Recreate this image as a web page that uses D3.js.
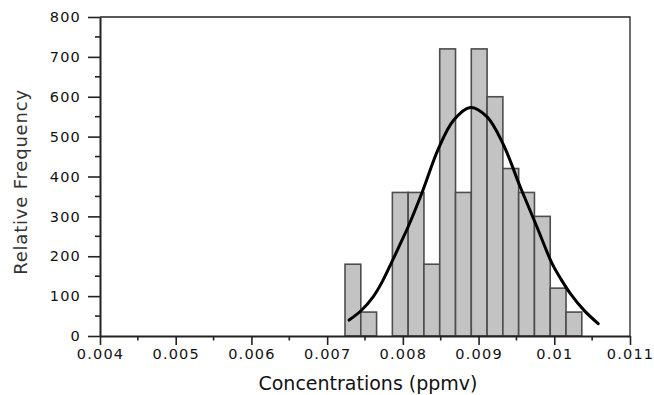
<!DOCTYPE html>
<html>
<head>
<meta charset="utf-8">
<script src="https://cdn.jsdelivr.net/npm/d3@7"></script>
<style>
  html, body { margin: 0; padding: 0; background: #fff; }
  svg { display: block; }
  .tk { font-family: "DejaVu Sans", Verdana, sans-serif; font-size: 14.5px; letter-spacing: 1.2px; fill: #111; }
</style>
</head>
<body>
<svg id="chart" width="654" height="395"></svg>
<script>
// ---- data ----
const binStart = 0.007236;
const binWidth = 0.0002085;
const binValues = [180, 60, 0, 360, 360, 180, 720, 360, 720, 600, 420, 360, 300, 120, 60];
const curveX = [0.00729, 0.00745, 0.00761, 0.00773, 0.00785, 0.00797, 0.00807, 0.00825, 0.00847, 0.00867, 0.00889,
                0.00911, 0.00933, 0.00955, 0.00977, 0.00997, 0.01009, 0.01021, 0.01040, 0.01058];
const curveY = [40, 64, 99, 137, 184, 233, 274, 358, 470, 541, 573,
                550, 479, 374, 274, 182, 142, 107, 63, 31];
const xTicks = [0.004, 0.005, 0.006, 0.007, 0.008, 0.009, 0.01, 0.011];
const xTickLabels = ["0.004", "0.005", "0.006", "0.007", "0.008", "0.009", "0.01", "0.011"];
const yTicks = [0, 100, 200, 300, 400, 500, 600, 700, 800];
const xLabel = "Concentrations (ppmv)";
const yLabel = "Relative Frequency";

// ---- layout ----
const L = 100, R = 630, T = 17, B = 336;
const svg = d3.select("#chart");
const x = d3.scaleLinear().domain([0.004, 0.011]).range([L, R]);
const y = d3.scaleLinear().domain([0, 800]).range([B, T]);

// frame (top/right)
svg.append("path")
  .attr("d", `M${L},${T}H${R}V${B}`)
  .attr("fill", "none").attr("stroke", "#222").attr("stroke-width", 1.3);

// bars
const bins = binValues.map((v, i) => ({x0: binStart + i * binWidth, x1: binStart + (i + 1) * binWidth, v}));
svg.append("g").selectAll("rect").data(bins.filter(d => d.v > 0)).join("rect")
  .attr("x", d => x(d.x0))
  .attr("y", d => y(d.v))
  .attr("width", d => x(d.x1) - x(d.x0))
  .attr("height", d => y(0) - y(d.v))
  .attr("fill", "#c3c3c3")
  .attr("stroke", "#4d4d4d")
  .attr("stroke-width", 1.6);

// curve
const pts = curveX.map((cx, i) => [cx, curveY[i]]);
svg.append("path")
  .datum(pts)
  .attr("fill", "none")
  .attr("stroke", "#000")
  .attr("stroke-width", 3)
  .attr("stroke-linecap", "round")
  .attr("d", d3.line().x(d => x(d[0])).y(d => y(d[1])).curve(d3.curveCatmullRom.alpha(0.5)));

const tickFont = "DejaVu Sans, Verdana, sans-serif";

// x axis
const xAxis = svg.append("g").attr("transform", `translate(0,${B})`)
  .call(d3.axisBottom(x).tickValues(xTicks).tickFormat((d, i) => xTickLabels[i]).tickSize(9).tickSizeOuter(0).tickPadding(4));
xAxis.select(".domain").attr("stroke", "#222").attr("stroke-width", 2);
xAxis.selectAll(".tick line").attr("stroke", "#222").attr("stroke-width", 1.6);
xAxis.attr("font-size", null).attr("font-family", null);
xAxis.selectAll("text").attr("class", "tk").attr("fill", null);
// minor x ticks
const xMinor = d3.range(0.0045, 0.011, 0.001);
svg.append("g").selectAll("line").data(xMinor).join("line")
  .attr("x1", d => x(d)).attr("x2", d => x(d)).attr("y1", B).attr("y2", B + 4.5)
  .attr("stroke", "#222").attr("stroke-width", 1.6);

// y axis
const yAxis = svg.append("g").attr("transform", `translate(${L},0)`)
  .call(d3.axisLeft(y).tickValues(yTicks).tickSize(12).tickSizeOuter(0).tickPadding(7));
yAxis.select(".domain").attr("stroke", "#222").attr("stroke-width", 2);
yAxis.selectAll(".tick line").attr("stroke", "#222").attr("stroke-width", 1.6);
yAxis.attr("font-size", null).attr("font-family", null);
yAxis.selectAll("text").attr("class", "tk").attr("fill", null);
const yMinor = d3.range(50, 800, 100);
svg.append("g").selectAll("line").data(yMinor).join("line")
  .attr("x1", L - 5).attr("x2", L).attr("y1", d => y(d)).attr("y2", d => y(d))
  .attr("stroke", "#222").attr("stroke-width", 1.6);

// axis titles
svg.append("text")
  .attr("x", 368).attr("y", 390)
  .attr("text-anchor", "middle")
  .attr("font-family", tickFont).attr("font-size", 19).attr("fill", "#111")
  .text(xLabel);
svg.append("text")
  .attr("transform", "translate(27,182) rotate(-90)")
  .attr("text-anchor", "middle")
  .attr("font-family", tickFont).attr("font-size", 18).attr("letter-spacing", 0.8).attr("fill", "#333")
  .text(yLabel);
</script>
</body>
</html>
